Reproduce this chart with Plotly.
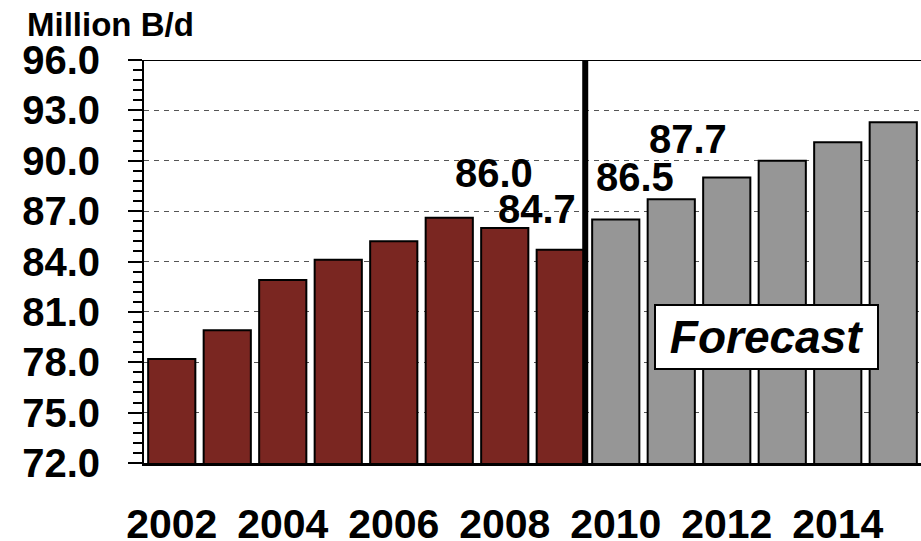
import plotly.graph_objects as go

# World oil demand, million barrels per day
years = [2002, 2003, 2004, 2005, 2006, 2007, 2008, 2009,
         2010, 2011, 2012, 2013, 2014, 2015]
demand = [78.2, 79.9, 82.9, 84.1, 85.2, 86.6, 86.0, 84.7,
          86.5, 87.7, 89.0, 90.0, 91.1, 92.3]
first_forecast_year = 2010

year_ticks = [2002, 2004, 2006, 2008, 2010, 2012, 2014]
year_tick_labels = [str(y) for y in year_ticks]

# years whose values are printed above the bars, with a sideways nudge (px)
labelled = {2008: (-11, 3.25), 2009: (-23, 2.4), 2010: (19, 2.55), 2011: (17, 3.6)}

hist_x = [y for y in years if y < first_forecast_year]
hist_y = [v for y, v in zip(years, demand) if y < first_forecast_year]
fc_x = [y for y in years if y >= first_forecast_year]
fc_y = [v for y, v in zip(years, demand) if y >= first_forecast_year]

FONT = "Liberation Sans, Arial, sans-serif"

fig = go.Figure()
fig.add_trace(go.Bar(x=hist_x, y=hist_y, width=0.85,
                     marker=dict(color="#7A2621", line=dict(color="black", width=2)),
                     showlegend=False, hoverinfo="x+y"))
fig.add_trace(go.Bar(x=fc_x, y=fc_y, width=0.85,
                     marker=dict(color="#969696", line=dict(color="black", width=2)),
                     showlegend=False, hoverinfo="x+y"))

for yr, (dx, dy) in labelled.items():
    v = demand[years.index(yr)]
    fig.add_annotation(x=yr, y=v + dy, text=f"<b>{v:.1f}</b>", showarrow=False,
                       xshift=dx, yanchor="middle",
                       font=dict(family=FONT, size=40, color="black"))

# boundary between history and forecast
fig.add_shape(type="line", xref="x", yref="y", x0=2009.45, x1=2009.45, y0=72, y1=96,
              line=dict(color="black", width=6), layer="above")
# top border
fig.add_shape(type="line", xref="paper", yref="y", x0=0, x1=1, y0=96, y1=96,
              line=dict(color="black", width=2), layer="above")

fig.add_annotation(x=2012.716, y=79.52, text="<b><i>Forecast</i></b>", showarrow=False,
                   width=221, height=62, bgcolor="white", bordercolor="black",
                   borderwidth=2, borderpad=0,
                   font=dict(family=FONT, size=46, color="black"))

fig.add_annotation(xref="paper", yref="paper", x=(25 - 144) / 777, y=(463 - 24) / 403,
                   xanchor="left", yanchor="middle", text="<b>Million B/d</b>",
                   showarrow=False, font=dict(family=FONT, size=33, color="black"))

fig.update_layout(
    width=921, height=541,
    margin=dict(l=144, r=0, t=60, b=78, autoexpand=False),
    plot_bgcolor="white", paper_bgcolor="white",
    bargap=0.15,
    font=dict(family=FONT, color="black"),
    xaxis=dict(range=[2001.5, 2015.5], tickmode="array", tickvals=year_ticks,
               ticktext=[f"<b>{t}</b>" for t in year_tick_labels],
               tickfont=dict(family=FONT, size=41, color="black"),
               showline=True, linecolor="black", linewidth=3, automargin=False,
               ticks="", showgrid=False, zeroline=False, ticklabelstandoff=23),
    yaxis=dict(range=[72, 96], tickmode="linear", tick0=72, dtick=3,
               tickformat=".1f",
               tickfont=dict(family=FONT, size=40, color="black", weight="bold"),
               showline=True, linecolor="black", linewidth=2, automargin=False,
               ticks="outside", ticklen=14, tickwidth=2, tickcolor="black",
               showgrid=True, gridcolor="#555555", gridwidth=1, griddash="5px,5px",
               zeroline=False, ticklabelstandoff=20,
               minor=dict(tick0=72, dtick=0.6, ticks="outside", ticklen=9,
                          tickwidth=2, tickcolor="black", showgrid=False)),
)

fig.write_html("out.html")
